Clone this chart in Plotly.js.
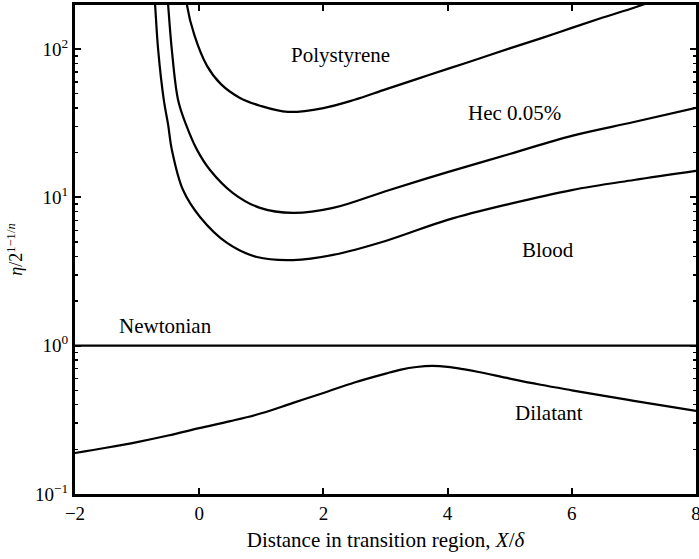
<!DOCTYPE html>
<html>
<head>
<meta charset="utf-8">
<script src="https://cdn.plot.ly/plotly-3.0.1.min.js"></script>
<style>html,body{margin:0;padding:0;background:#fff;}#chart{width:699px;height:559px;}</style>
</head>
<body>
<div id="chart"></div>
<script>
// Polystyrene
const polyX = [-0.22, -0.197, -0.08, 0.126, 0.35, 0.65, 0.98, 1.43, 2.0, 2.5, 3.0, 3.5, 4.0, 4.5, 5.0, 5.5, 6.0, 6.5, 7.0, 7.3];
const polyY = [260, 198, 125, 77, 58, 47, 41.5, 37.7, 40, 45.5, 53.5, 62.7, 73.5, 86, 101, 118, 139, 163, 190, 210];
// Hec 0.05%
const hecX = [-0.52, -0.50, -0.44, -0.34, -0.21, -0.035, 0.174, 0.544, 0.979, 1.51, 2.155, 3.0, 4.0, 5.0, 6.0, 7.0, 8.0];
const hecY = [260, 198, 98, 45.4, 30.8, 20.9, 15.3, 10.7, 8.49, 7.85, 8.49, 11.0, 14.8, 19.6, 26.0, 32.2, 40.1];
// Blood
const bloodX = [-0.73, -0.71, -0.66, -0.57, -0.50, -0.44, -0.26, 0.013, 0.448, 0.93, 1.51, 2.155, 3.0, 4.0, 5.0, 6.0, 7.0, 8.0];
const bloodY = [260, 198, 98, 45.4, 30.8, 20.9, 11.2, 7.38, 4.93, 3.96, 3.78, 4.09, 5.08, 7.05, 9.04, 11.2, 13.1, 15.1];
// Newtonian
const newtX = [-2, 8];
const newtY = [1, 1];
// Dilatant
const dilX = [-2, -1.5, -1, -0.5, 0, 0.5, 1, 1.5, 2, 2.5, 3, 3.25, 3.5, 3.75, 4, 4.25, 4.5, 5, 5.5, 6, 6.5, 7, 7.5, 8];
const dilY = [0.189, 0.205, 0.224, 0.248, 0.278, 0.31, 0.35, 0.41, 0.48, 0.565, 0.648, 0.69, 0.718, 0.73, 0.72, 0.695, 0.665, 0.60, 0.545, 0.5, 0.46, 0.425, 0.393, 0.363];

const labels = ["Polystyrene", "Hec 0.05%", "Blood", "Newtonian", "Dilatant"];
const labelX = [2.27, 5.085, 5.62, -0.55, 5.63];
const labelY = [91.6, 37.1, 4.41, 1.36, 0.352];

const yTickVals = [0.1, 1, 10, 100];
const yTickText = ["10<sup>−1</sup>", "10<sup>0</sup>", "10<sup>1</sup>", "10<sup>2</sup>"];

const font = "'Liberation Serif', 'Times New Roman', Times, serif";
const line = {color: "#000", width: 2.2, shape: "spline", smoothing: 1};
const mk = (x, y) => ({x, y, type: "scatter", mode: "lines", line, hoverinfo: "skip", showlegend: false});

const data = [mk(polyX, polyY), mk(hecX, hecY), mk(bloodX, bloodY),
  {x: newtX, y: newtY, type: "scatter", mode: "lines", line: {color: "#000", width: 2.2}, showlegend: false},
  mk(dilX, dilY)];

const annotations = labels.map((t, i) => ({
  x: labelX[i], y: Math.log10(labelY[i]), xref: "x", yref: "y", text: t, showarrow: false,
  font: {family: font, size: 21, color: "#000"}
}));

const layout = {
  width: 699, height: 559,
  margin: {l: 75, r: 3, t: 5, b: 65},
  paper_bgcolor: "#fff", plot_bgcolor: "#fff",
  font: {family: font, color: "#000", size: 18},
  showlegend: false,
  xaxis: {
    range: [-2, 8], tickmode: "linear", tick0: -2, dtick: 2,
    ticks: "inside", ticklen: 6, tickwidth: 2, tickcolor: "#000",
    showline: true, linewidth: 3, linecolor: "#000", mirror: "ticks",
    showgrid: false, zeroline: false, ticklabeloverflow: "allow",
    tickfont: {family: font, size: 19},
    title: {text: "Distance in transition region, <i>X</i>/<i>δ</i>", font: {family: font, size: 21}, standoff: 10}
  },
  yaxis: {
    type: "log", range: [-1, 2.297], tickmode: "array", tickvals: yTickVals, ticktext: yTickText,
    ticks: "inside", ticklen: 6, tickwidth: 2, tickcolor: "#000",
    minor: {dtick: "D1", ticks: "inside", ticklen: 3, tickwidth: 1.5, tickcolor: "#000", showgrid: false},
    showline: true, linewidth: 3, linecolor: "#000", mirror: "ticks",
    showgrid: false, zeroline: false,
    tickfont: {family: font, size: 19},
    title: {text: "<i>η</i>/2<sup>1−1/<i>n</i></sup>", font: {family: font, size: 18}, standoff: 8}
  },
  annotations
};

Plotly.newPlot("chart", data, layout, {displayModeBar: false, staticPlot: true});
</script>
</body>
</html>
